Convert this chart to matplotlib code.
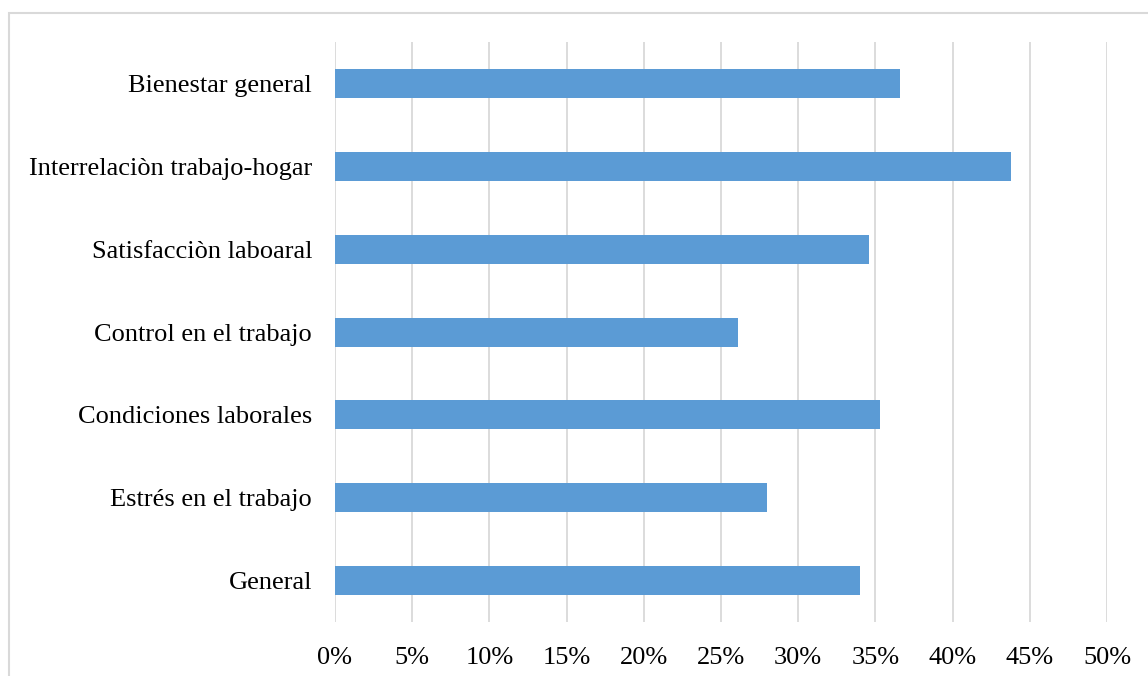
import matplotlib
matplotlib.use("Agg")
import matplotlib.pyplot as plt
from matplotlib.patches import Rectangle
from matplotlib.ticker import FuncFormatter

categories = ["General", "Estrés en el trabajo", "Condiciones laborales",
              "Control en el trabajo", "Satisfacciòn laboaral",
              "Interrelaciòn trabajo-hogar", "Bienestar general"]
values = [34.0, 28.0, 35.3, 26.1, 34.6, 43.8, 36.6]
xticks = [0, 5, 10, 15, 20, 25, 30, 35, 40, 45, 50]

plt.rcParams['font.family'] = ['Liberation Serif', 'DejaVu Serif']

W, H = 1148, 676
fig = plt.figure(figsize=(W / 100, H / 100), dpi=100)
ax = fig.add_axes([335 / W, 1 - 622 / H, (1107 - 335) / W, (622 - 42) / H])

ypos = list(range(len(categories)))
ax.barh(ypos, values, height=0.35, color="#5B9BD5", zorder=3)
ax.set_xlim(0, 50)
ax.set_ylim(-0.5, len(categories) - 0.5)
ax.set_xticks(xticks)
ax.xaxis.set_major_formatter(FuncFormatter(lambda v, p: f"{int(v)}%"))
ax.set_yticks(ypos)
ax.set_yticklabels(categories)
ax.grid(axis="x", color="#D9D9D9", linewidth=1.3, zorder=0)
for s in ax.spines.values():
    s.set_visible(False)
ax.tick_params(axis="both", length=0, labelsize=19, colors="black")
ax.tick_params(axis="y", pad=16.5)
ax.tick_params(axis="x", pad=18)

fig.patches.append(Rectangle((8.5 / W, -0.1), 1.2, 1 - 13.5 / H + 0.1,
                             transform=fig.transFigure, fill=False,
                             edgecolor="#D9D9D9", linewidth=1.5))

fig.savefig("out.png", dpi=100)
